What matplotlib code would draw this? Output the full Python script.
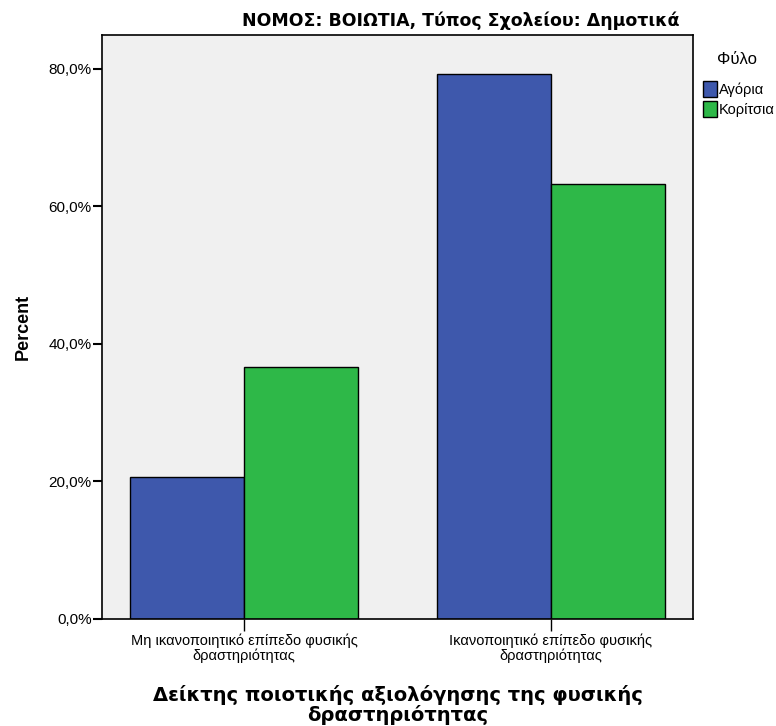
import numpy as np
import matplotlib.pyplot as plt
from matplotlib.ticker import FuncFormatter

# data
categories = ["Μη ικανοποιητικό επίπεδο φυσικής\nδραστηριότητας",
              "Ικανοποιητικό επίπεδο φυσικής\nδραστηριότητας"]
series_names = ["Αγόρια", "Κορίτσια"]
agoria = [20.7, 79.3]
koritsia = [36.7, 63.3]
colors = ["#3E58AC", "#2EB848"]

plt.rcParams['font.family'] = ['Liberation Sans', 'DejaVu Sans']

fig = plt.figure(figsize=(7.76, 7.26), dpi=100)
ax = fig.add_axes([102/776, 1-619/726, 591/776, 584/726])
ax.set_facecolor("#F0F0F0")

x = np.arange(len(categories))
w = 0.372
ax.bar(x - w/2, agoria, w, color=colors[0], edgecolor="black", linewidth=1, label=series_names[0])
ax.bar(x + w/2, koritsia, w, color=colors[1], edgecolor="black", linewidth=1, label=series_names[1])

ax.set_xlim(-0.464, 1.464)
ax.set_ylim(0, 84.9)
ax.set_yticks([0, 20, 40, 60, 80])
ax.yaxis.set_major_formatter(FuncFormatter(lambda v, p: ("%.1f%%" % v).replace(".", ",")))
ax.set_xticks(x)
ax.set_xticklabels(categories, fontsize=10.5, linespacing=1.0)
ax.tick_params(axis='y', labelsize=11, length=6.5, width=1.5, pad=1)
ax.tick_params(axis='x', length=8.5, width=1, pad=2)
for s in ax.spines.values():
    s.set_linewidth(1.2)

ax.set_ylabel("Percent", fontsize=13, fontweight="bold", labelpad=12)
ax.set_xlabel("Δείκτης ποιοτικής αξιολόγησης της φυσικής\nδραστηριότητας",
              fontsize=14, fontweight="bold", family="DejaVu Sans",
              linespacing=1.0, labelpad=16)

fig.text(461/776, 1-21/726, "ΝΟΜΟΣ: ΒΟΙΩΤΙΑ, Τύπος Σχολείου: Δημοτικά",
         ha="center", va="center", fontsize=12.5, fontweight="bold",
         family="DejaVu Sans")

fig.text(737/776, 1-60/726, "Φύλο", ha="center", va="center", fontsize=12)
leg = ax.legend(loc="upper left", bbox_to_anchor=(693/776, 1-71/726),
                bbox_transform=fig.transFigure, frameon=False, fontsize=10.5,
                handlelength=0.95, handleheight=1.3,
                handletextpad=0.1, borderpad=0.2, labelspacing=0.25)
for h in leg.legend_handles:
    h.set_edgecolor("black")

fig.savefig("out.png", dpi=100)
